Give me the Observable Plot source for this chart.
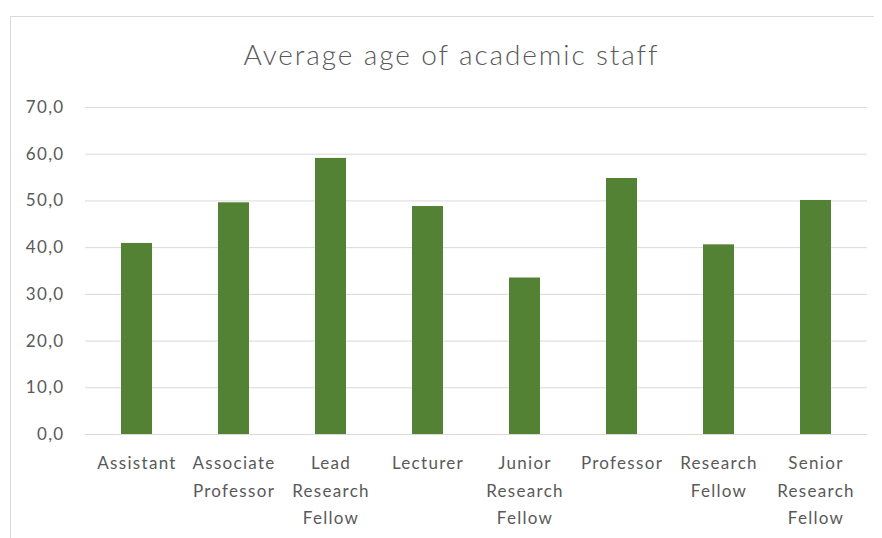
<!DOCTYPE html>
<html><head><meta charset="utf-8">
<script src="https://cdn.jsdelivr.net/npm/d3@7"></script>
<script src="https://cdn.jsdelivr.net/npm/@observablehq/plot@0.6"></script>
<style>
body{margin:0;background:#fff;}
#wrap{position:relative;width:882px;height:538px;overflow:hidden;background:#fff;}
#border{position:absolute;left:10px;top:16px;width:864px;height:600px;border:1px solid #d9d9d9;border-right:none;box-sizing:border-box;}
#chart{position:absolute;left:0;top:0;}
</style></head><body>
<div id="wrap"><div id="border"></div><div id="chart"></div></div>
<script>
const title = "Average age of academic staff";
const categories = ["Assistant", "Associate Professor", "Lead Research Fellow", "Lecturer", "Junior Research Fellow", "Professor", "Research Fellow", "Senior Research Fellow"];
const tickLabels = ["Assistant", "Associate\nProfessor", "Lead\nResearch\nFellow", "Lecturer", "Junior\nResearch\nFellow", "Professor", "Research\nFellow", "Senior\nResearch\nFellow"];
const values = [40.9, 49.6, 59.1, 48.8, 33.5, 54.8, 40.6, 50.1];
const yTicks = [0, 10, 20, 30, 40, 50, 60, 70];

const data = categories.map((c, i) => ({category: c, value: values[i]}));
const labelOf = new Map(categories.map((c, i) => [c, tickLabels[i]]));

const chart = Plot.plot({
  width: 882,
  height: 538,
  marginLeft: 85,
  marginRight: 15,
  marginTop: 107,
  marginBottom: 104,
  style: {fontFamily: "Lato", fontSize: "17px", color: "#595959", background: "transparent", letterSpacing: "1.3px"},
  x: {domain: categories, paddingInner: 0.683, paddingOuter: 0.3415},
  y: {domain: [0, 70]},
  marks: [
    Plot.gridY(yTicks, {stroke: "#d9d9d9", strokeOpacity: 1, strokeWidth: 1}),
    Plot.barY(data, {x: "category", y: "value", fill: "#548235"}),
    Plot.axisY(yTicks, {tickSize: 0, tickPadding: 21, tickFormat: d => d.toFixed(1).replace(".", ","), label: null, fill: "#595959"}),
    Plot.axisX({tickSize: 0, tickPadding: 15, tickFormat: d => labelOf.get(d), lineHeight: 1.62, label: null, fill: "#595959"}),
    Plot.text([title], {frameAnchor: "top", lineAnchor: "bottom", dy: -43, dx: -25, fontSize: 28, fontWeight: 300, fill: "#595959", text: d => d})
  ]
});
d3.select(chart).selectAll("g[aria-label='text'] text").style("letter-spacing", "1.9px");
document.getElementById("chart").appendChild(chart);
</script>
</body></html>
